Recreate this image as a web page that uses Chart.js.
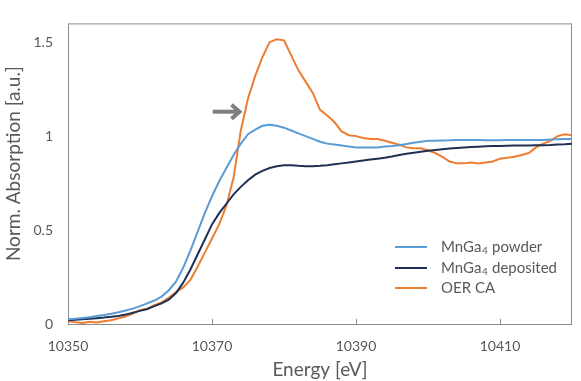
<!DOCTYPE html>
<html>
<head>
<meta charset="utf-8">
<script src="https://cdn.jsdelivr.net/npm/chart.js@4/dist/chart.umd.min.js"></script>
<style>
  html, body { margin: 0; padding: 0; background: #fff; }
  #wrap { width: 581px; height: 381px; }
</style>
</head>
<body>
<div id="wrap"><canvas id="xanes" width="581" height="381"></canvas></div>
<script>
const energy = [
  10350, 10351, 10352, 10353, 10354, 10355, 10356, 10357, 10358, 10359,
  10360, 10361, 10362, 10363, 10364, 10365, 10366, 10367, 10368, 10369,
  10370, 10371, 10372, 10373, 10374, 10375, 10376, 10377, 10378, 10379,
  10380, 10381, 10382, 10383, 10384, 10385, 10386, 10387, 10388, 10389,
  10390, 10391, 10392, 10393, 10394, 10395, 10396, 10397, 10398, 10399,
  10400, 10401, 10402, 10403, 10404, 10405, 10406, 10407, 10408, 10409,
  10410, 10411, 10412, 10413, 10414, 10415, 10416, 10417, 10418, 10419,
  10420
];

const powder = [
  0.025, 0.028, 0.032, 0.036, 0.042, 0.048, 0.055, 0.063, 0.072, 0.082,
  0.095, 0.11, 0.125, 0.146, 0.18, 0.225, 0.3, 0.39, 0.49, 0.59,
  0.68, 0.76, 0.83, 0.9, 0.96, 1.01, 1.035, 1.055, 1.06, 1.055,
  1.045, 1.03, 1.015, 1.0, 0.985, 0.97, 0.96, 0.955, 0.95, 0.945,
  0.94, 0.94, 0.94, 0.94, 0.945, 0.948, 0.952, 0.958, 0.965, 0.97,
  0.975, 0.976, 0.977, 0.978, 0.98, 0.98, 0.98, 0.979, 0.978, 0.978,
  0.978, 0.979, 0.98, 0.98, 0.98, 0.98, 0.98, 0.982, 0.984, 0.985,
  0.985
];

const deposited = [
  0.02, 0.022, 0.025, 0.028, 0.031, 0.034, 0.038, 0.043, 0.05, 0.06,
  0.07, 0.08, 0.095, 0.11, 0.13, 0.165, 0.22, 0.29, 0.37, 0.45,
  0.53, 0.59, 0.64, 0.69, 0.73, 0.765, 0.795, 0.815, 0.83, 0.84,
  0.845, 0.845, 0.842, 0.84, 0.84, 0.842, 0.845, 0.85, 0.855, 0.86,
  0.865, 0.87, 0.875, 0.88, 0.885, 0.892, 0.9, 0.906, 0.912, 0.917,
  0.922, 0.926, 0.93, 0.934, 0.937, 0.94, 0.942, 0.944, 0.946, 0.947,
  0.948, 0.949, 0.95, 0.95, 0.95, 0.951, 0.952, 0.953, 0.955, 0.957,
  0.96
];

const oerCA = [
  0.015, 0.01, 0.005, 0.012, 0.008, 0.015, 0.02, 0.03, 0.04, 0.055,
  0.075, 0.08, 0.1, 0.115, 0.14, 0.17, 0.195, 0.235, 0.305, 0.38,
  0.455, 0.53, 0.63, 0.78, 1.03, 1.2, 1.32, 1.42, 1.5, 1.515,
  1.51, 1.43, 1.35, 1.29, 1.23, 1.14, 1.11, 1.075, 1.025, 1.005,
  1.0, 0.99, 0.985, 0.985, 0.975, 0.965, 0.955, 0.94, 0.935, 0.935,
  0.925, 0.91, 0.89, 0.865, 0.855, 0.855, 0.86, 0.855, 0.86, 0.865,
  0.88, 0.885, 0.89, 0.9, 0.91, 0.94, 0.96, 0.975, 1.0, 1.01,
  1.005
];

const xTicks = [10350, 10370, 10390, 10410];
const yTicks = [0, 0.5, 1, 1.5];

const legendItems = [
  { pre: "MnGa", sub: "4", post: " powder", color: "#5b9bd5" },
  { pre: "MnGa", sub: "4", post: " deposited", color: "#1f3056" },
  { pre: "OER CA", sub: "", post: "", color: "#ed7d31" }
];

const yTitle = "Norm. Absorption [a.u.]";
const textColor = "#595959";
const frameColor = "#8c8c8c";

function toPoints(values) {
  return values.map((v, i) => ({ x: energy[i], y: v }));
}

// frame, inward x ticks, y title, arrow and legend drawn on the canvas
const decor = {
  id: "decor",
  beforeDatasetsDraw(chart) {
    const { ctx, chartArea: a, scales } = chart;
    ctx.save();
    ctx.strokeStyle = frameColor;
    ctx.lineWidth = 1;
    ctx.strokeRect(a.left + 0.5, a.top + 0.5, a.right - a.left - 1, a.bottom - a.top);
    xTicks.slice(1).forEach((v) => {
      const x = Math.round(scales.x.getPixelForValue(v)) + 0.5;
      ctx.beginPath();
      ctx.moveTo(x, a.bottom);
      ctx.lineTo(x, a.bottom - 5);
      ctx.stroke();
    });

    // y title sits a little above the plot centre, as in the original
    ctx.translate(14, (a.top + a.bottom) / 2 - 10);
    ctx.rotate(-Math.PI / 2);
    ctx.fillStyle = textColor;
    ctx.font = "19px Lato";
    ctx.textAlign = "center";
    ctx.textBaseline = "middle";
    ctx.fillText(yTitle, 0, 0);
    ctx.restore();
  },
  afterDatasetsDraw(chart) {
    const { ctx, chartArea: a, scales } = chart;
    ctx.save();

    // arrow pointing at the OER CA edge
    const ay = scales.y.getPixelForValue(1.13);
    const x0 = scales.x.getPixelForValue(10370.1);
    const x1 = scales.x.getPixelForValue(10374.1);
    ctx.strokeStyle = "#7f7f7f";
    ctx.lineWidth = 4;
    ctx.beginPath();
    ctx.moveTo(x0, ay);
    ctx.lineTo(x1 - 3, ay);
    ctx.stroke();
    ctx.lineJoin = "miter";
    ctx.beginPath();
    ctx.moveTo(x1 - 10, ay - 7);
    ctx.lineTo(x1 - 2, ay);
    ctx.lineTo(x1 - 10, ay + 7);
    ctx.stroke();

    // legend
    const lineX = a.right - 177;
    const textX = a.right - 131;
    const rows = [a.bottom - 77, a.bottom - 56, a.bottom - 36];
    ctx.textBaseline = "middle";
    ctx.fillStyle = textColor;
    legendItems.forEach((item, i) => {
      const y = rows[i];
      ctx.strokeStyle = item.color;
      ctx.lineWidth = 2;
      ctx.beginPath();
      ctx.moveTo(lineX, y);
      ctx.lineTo(lineX + 32, y);
      ctx.stroke();
      let x = textX;
      ctx.font = "15px Lato";
      ctx.fillText(item.pre, x, y);
      x += ctx.measureText(item.pre).width;
      if (item.sub) {
        ctx.font = "10px Lato";
        ctx.fillText(item.sub, x + 0.5, y + 4);
        x += ctx.measureText(item.sub).width + 1;
      }
      ctx.font = "15px Lato";
      ctx.fillText(item.post, x, y);
    });
    ctx.restore();
  }
};

new Chart(document.getElementById("xanes"), {
  type: "line",
  data: {
    datasets: [
      {
        label: "MnGa4 powder",
        data: toPoints(powder),
        borderColor: "#5b9bd5",
        borderWidth: 2
      },
      {
        label: "MnGa4 deposited",
        data: toPoints(deposited),
        borderColor: "#1f3056",
        borderWidth: 2
      },
      {
        label: "OER CA",
        data: toPoints(oerCA),
        borderColor: "#ed7d31",
        borderWidth: 2
      }
    ]
  },
  options: {
    responsive: false,
    animation: false,
    events: [],
    elements: {
      point: { radius: 0 },
      line: { tension: 0 }
    },
    layout: {
      padding: { top: 5, right: 9, left: 0, bottom: 0 }
    },
    plugins: {
      legend: { display: false },
      tooltip: { enabled: false }
    },
    scales: {
      x: {
        type: "linear",
        min: 10350,
        max: 10420,
        afterBuildTicks: (scale) => {
          scale.ticks = xTicks.map((v) => ({ value: v }));
        },
        afterFit: (scale) => {
          scale.height = 57;
        },
        grid: { display: false, drawTicks: false },
        border: { display: false },
        ticks: {
          color: textColor,
          font: { family: "Lato", size: 14 },
          padding: 14,
          maxRotation: 0,
          callback: (v) => String(v)
        },
        title: {
          display: true,
          text: "Energy [eV]",
          color: textColor,
          font: { family: "Lato", size: 19 },
          padding: { top: 0, bottom: 0 }
        }
      },
      y: {
        min: 0,
        max: 1.6,
        afterBuildTicks: (scale) => {
          scale.ticks = yTicks.map((v) => ({ value: v }));
        },
        afterFit: (scale) => {
          scale.width = 68;
        },
        grid: { display: false, drawTicks: false },
        border: { display: false },
        ticks: {
          color: textColor,
          font: { family: "Lato", size: 14 },
          padding: 15,
          callback: (v) => String(v)
        }
      }
    }
  },
  plugins: [decor]
});
</script>
</body>
</html>
